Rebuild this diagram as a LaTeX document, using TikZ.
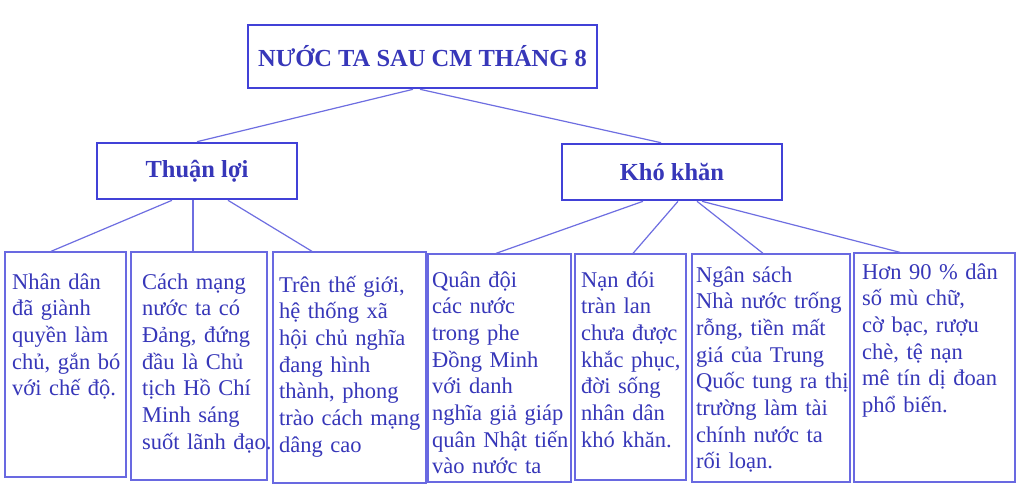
\documentclass[tikz,border=0pt]{standalone}
\usepackage{fontspec}
\setmainfont{Liberation Serif}
\usetikzlibrary{calc}
\definecolor{headblue}{RGB}{65,65,215}
\definecolor{boxblue}{RGB}{105,105,225}
\definecolor{lineblue}{RGB}{110,110,225}
\definecolor{textblue}{RGB}{55,55,185}
\tikzset{
  headbox/.style={draw=headblue, line width=2.6pt, inner sep=0pt, text=textblue,
    font=\bfseries\fontsize{24.5}{28}\selectfont},
  itembox/.style={draw=boxblue, line width=1.3pt, inner sep=0pt},
  itemtext/.style={anchor=base west, inner sep=0pt, text=textblue, text width=220pt,
    align=left, font=\fontsize{22.5}{26.7}\selectfont},
  conn/.style={draw=lineblue, line width=1.2pt}
}
\begin{document}
\begin{tikzpicture}[x=1pt,y=-1pt]
\useasboundingbox[fill=white] (0,0) rectangle (1024,488);
% heading boxes
\node[headbox, minimum width=349pt, minimum height=63pt] (top) at (422.5,56.5) {NƯỚC TA SAU CM THÁNG 8};
\node[headbox, minimum width=200pt, minimum height=56pt] (tl) at (197,171) {Thuận lợi};
\node[headbox, minimum width=220pt, minimum height=56pt] (kk) at (672,172) {Khó khăn};
% item boxes
\node[itembox, minimum width=121pt, minimum height=225pt] (b1) at (65.5,364.5) {};
\node[itembox, minimum width=136pt, minimum height=228pt] (b2) at (199,366) {};
\node[itembox, minimum width=153pt, minimum height=231pt] (b3) at (349.5,367.5) {};
\node[itembox, minimum width=143pt, minimum height=228pt] (b4) at (499.5,368) {};
\node[itembox, minimum width=111pt, minimum height=226pt] (b5) at (630.5,367) {};
\node[itembox, minimum width=158pt, minimum height=228pt] (b6) at (771,368) {};
\node[itembox, minimum width=161pt, minimum height=229pt] (b7) at (934.5,367.5) {};
% texts
\node[itemtext] (t1) at (12,289) {Nhân dân\\đã giành\\quyền làm\\chủ, gắn bó\\với chế độ.};
\node[itemtext] (t2) at (142,289) {Cách mạng\\nước ta có\\Đảng, đứng\\đầu là Chủ\\tịch Hồ Chí\\Minh sáng\\suốt lãnh đạo.};
\node[itemtext] (t3) at (279,292) {Trên thế giới,\\hệ thống xã\\hội chủ nghĩa\\đang hình\\thành, phong\\trào cách mạng\\dâng cao};
\node[itemtext] (t4) at (432,287) {Quân đội\\các nước\\trong phe\\Đồng Minh\\với danh\\nghĩa giả giáp\\quân Nhật tiến\\vào nước ta};
\node[itemtext] (t5) at (581,287) {Nạn đói\\tràn lan\\chưa được\\khắc phục,\\đời sống\\nhân dân\\khó khăn.};
\node[itemtext] (t6) at (696,282) {Ngân sách\\Nhà nước trống\\rỗng, tiền mất\\giá của Trung\\Quốc tung ra thị\\trường làm tài\\chính nước ta\\rối loạn.};
\node[itemtext] (t7) at (862,279) {Hơn 90 \% dân\\số mù chữ,\\cờ bạc, rượu\\chè, tệ nạn\\mê tín dị đoan\\phổ biến.};
% connectors
\draw[conn] ([xshift=-9.5pt]top.south) -- (tl.north);
\draw[conn] ([xshift=-2.5pt]top.south) -- ([xshift=-11pt]kk.north);
\draw[conn] ([xshift=-25pt]tl.south) -- ([xshift=-14.5pt]b1.north);
\draw[conn] ([xshift=-4pt]tl.south) -- ([xshift=-6pt]b2.north);
\draw[conn] ([xshift=31pt]tl.south) -- ([xshift=-37.5pt]b3.north);
\draw[conn] ([xshift=-29pt]kk.south) -- ([xshift=-3.5pt]b4.north);
\draw[conn] ([xshift=6pt]kk.south) -- ([xshift=2.5pt]b5.north);
\draw[conn] ([xshift=25pt]kk.south) -- ([xshift=-8pt]b6.north);
\draw[conn] ([xshift=30pt]kk.south) -- ([xshift=-34.5pt]b7.north);
\end{tikzpicture}
\end{document}
